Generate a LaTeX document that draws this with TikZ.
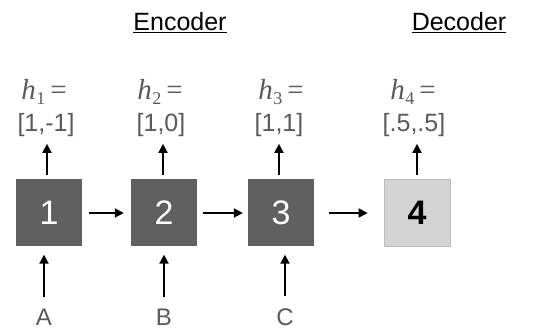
\documentclass[tikz,border=0pt]{standalone}
\usepackage{fontspec}
\setmainfont{Liberation Sans}
\newfontfamily\tmsfont{Liberation Serif}
\usetikzlibrary{arrows.meta}
\definecolor{boxdark}{HTML}{606060}
\definecolor{boxlight}{HTML}{D4D4D4}
\definecolor{boxlightedge}{HTML}{BDBDBD}
\definecolor{txtgray}{HTML}{5A5A5A}
\tikzset{
  cell/.style={minimum width=66pt, minimum height=67pt, inner sep=0pt, draw=none},
  enc/.style={cell, fill=boxdark, text=white, font=\fontsize{34}{34}\selectfont},
  dec/.style={cell, fill=boxlight, draw=boxlightedge, line width=0.6pt, text=black, font=\fontsize{34}{34}\selectfont\bfseries},
  arr/.style={line width=1.8pt, -{Triangle[length=9pt,width=9pt]}},
  hname/.style={text=txtgray, inner sep=0pt, font=\tmsfont\fontsize{29}{29}\selectfont},
  hval/.style={text=txtgray, inner sep=0pt, font=\fontsize{25}{25}\selectfont},
  inp/.style={text=txtgray, inner sep=0pt, font=\fontsize{24}{24}\selectfont},
  title/.style={text=black, inner sep=0pt, font=\fontsize{25}{25}\selectfont}
}
\newcommand{\hsym}[1]{\textit{h}\kern0.5pt\raisebox{-0.35ex}{\fontsize{18}{18}\selectfont #1}\kern5pt=}
\begin{document}
\begin{tikzpicture}[x=1pt,y=1pt]
\useasboundingbox (0,0) rectangle (536,331);
% boxes (y_tikz = 331 - y_px)
\node[enc] (b1) at (49,118) {1};
\node[enc] (b2) at (164,118) {2};
\node[enc] (b3) at (281,118) {3};
\node[dec] (b4) at (417,118) {4};
% titles
\node[title] (enc) at (180,308) {\underline{Encoder}};
\node[title] (dec) at (459,308) {\underline{Decoder}};
% hidden state labels
\node[hname] (h1) at (44,239) {\hsym{1}};
\node[hval]  (v1) at (46,206) {[1,-1]};
\node[hname] (h2) at (160,239) {\hsym{2}};
\node[hval]  (v2) at (161,206) {[1,0]};
\node[hname] (h3) at (281,239) {\hsym{3}};
\node[hval]  (v3) at (279,206) {[1,1]};
\node[hname] (h4) at (413,239) {\hsym{4}};
\node[hval]  (v4) at (414,206) {[.5,.5]};
% inputs
\node[inp] (iA) at (44,14) {A};
\node[inp] (iB) at (164,14) {B};
\node[inp] (iC) at (285,14) {C};
% upward arrows to hidden states
\draw[arr, shorten <=4pt, shorten >=7pt] ([xshift=-2pt]b1.north) -- ([xshift=-2pt]b1.north |- v1.south);
\draw[arr, shorten <=4pt, shorten >=7pt] ([xshift=-1pt]b2.north) -- ([xshift=-1pt]b2.north |- v2.south);
\draw[arr, shorten <=4pt, shorten >=7pt] ([xshift=-2pt]b3.north) -- ([xshift=-2pt]b3.north |- v3.south);
\draw[arr, shorten <=4pt, shorten >=7pt] (b4.north) -- (b4.north |- v4.south);
% input arrows
\draw[arr, shorten <=12pt, shorten >=8pt] (iA.north) -- (iA.north |- b1.south);
\draw[arr, shorten <=12pt, shorten >=8pt] (iB.north) -- (iB.north |- b2.south);
\draw[arr, shorten <=12pt, shorten >=8pt] (iC.north) -- (iC.north |- b3.south);
% recurrent arrows
\draw[arr, shorten <=7pt, shorten >=7pt] (b1.east) -- (b2.west);
\draw[arr, shorten <=6pt, shorten >=5pt] (b2.east) -- (b3.west);
\draw[arr, shorten <=15pt, shorten >=16pt] (b3.east) -- (b4.west);
\end{tikzpicture}
\end{document}
